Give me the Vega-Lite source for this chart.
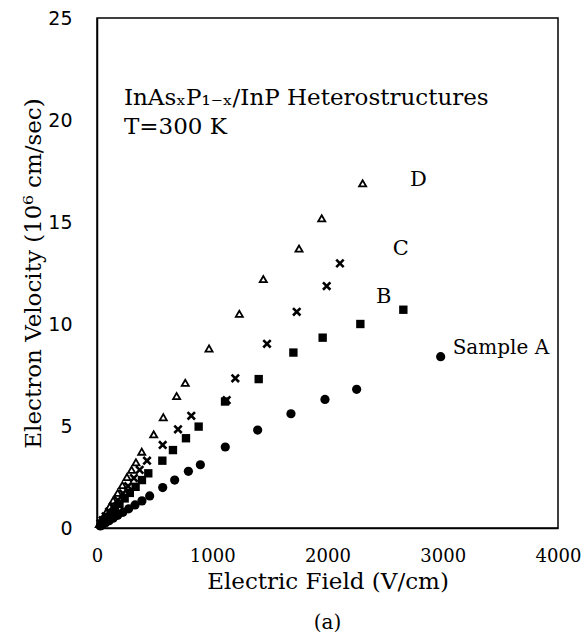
{
  "$schema": "https://vega.github.io/schema/vega-lite/v6.json",
  "width": 461,
  "height": 510,
  "autosize": "none",
  "padding": {"left": 97, "top": 18, "right": 29, "bottom": 113},
  "background": "white",
  "config": {
    "view": {"stroke": "black", "strokeWidth": 1.5},
    "font": "DejaVu Serif"
  },
  "title": {"text": "(a)", "orient": "bottom", "offset": 20, "fontSize": 20, "fontWeight": "normal", "font": "DejaVu Serif", "color": "black"},
  "datasets": {
    "pts": [
      {"s": "A", "E": 2982, "v": 8.4}, {"s": "A", "E": 2253, "v": 6.8}, {"s": "A", "E": 1978, "v": 6.3}, {"s": "A", "E": 1683, "v": 5.6},
      {"s": "A", "E": 1394, "v": 4.8}, {"s": "A", "E": 1113, "v": 3.97}, {"s": "A", "E": 897, "v": 3.1}, {"s": "A", "E": 793, "v": 2.78},
      {"s": "A", "E": 674, "v": 2.35}, {"s": "A", "E": 570, "v": 1.98}, {"s": "A", "E": 457, "v": 1.57}, {"s": "A", "E": 390, "v": 1.33},
      {"s": "A", "E": 330, "v": 1.13}, {"s": "A", "E": 275, "v": 0.94}, {"s": "A", "E": 225, "v": 0.77}, {"s": "A", "E": 180, "v": 0.62},
      {"s": "A", "E": 140, "v": 0.48}, {"s": "A", "E": 105, "v": 0.36}, {"s": "A", "E": 75, "v": 0.26}, {"s": "A", "E": 50, "v": 0.17}, {"s": "A", "E": 30, "v": 0.1},
      {"s": "B", "E": 2658, "v": 10.7}, {"s": "B", "E": 2285, "v": 10.0}, {"s": "B", "E": 1958, "v": 9.33}, {"s": "B", "E": 1704, "v": 8.6},
      {"s": "B", "E": 1403, "v": 7.3}, {"s": "B", "E": 1111, "v": 6.2}, {"s": "B", "E": 882, "v": 4.97}, {"s": "B", "E": 772, "v": 4.4},
      {"s": "B", "E": 659, "v": 3.82}, {"s": "B", "E": 567, "v": 3.3}, {"s": "B", "E": 445, "v": 2.68}, {"s": "B", "E": 390, "v": 2.35},
      {"s": "B", "E": 335, "v": 2.02}, {"s": "B", "E": 285, "v": 1.72}, {"s": "B", "E": 240, "v": 1.45}, {"s": "B", "E": 195, "v": 1.18},
      {"s": "B", "E": 155, "v": 0.94}, {"s": "B", "E": 120, "v": 0.72}, {"s": "B", "E": 90, "v": 0.54}, {"s": "B", "E": 60, "v": 0.36}, {"s": "B", "E": 35, "v": 0.21},
      {"s": "C", "E": 2108, "v": 12.97}, {"s": "C", "E": 1993, "v": 11.86}, {"s": "C", "E": 1733, "v": 10.6}, {"s": "C", "E": 1475, "v": 9.03},
      {"s": "C", "E": 1200, "v": 7.34}, {"s": "C", "E": 1125, "v": 6.27}, {"s": "C", "E": 818, "v": 5.5}, {"s": "C", "E": 703, "v": 4.84},
      {"s": "C", "E": 570, "v": 4.07}, {"s": "C", "E": 434, "v": 3.3}, {"s": "C", "E": 370, "v": 2.85}, {"s": "C", "E": 320, "v": 2.45},
      {"s": "C", "E": 270, "v": 2.05}, {"s": "C", "E": 225, "v": 1.7}, {"s": "C", "E": 180, "v": 1.37}, {"s": "C", "E": 140, "v": 1.06},
      {"s": "C", "E": 105, "v": 0.8}, {"s": "C", "E": 75, "v": 0.57}, {"s": "C", "E": 50, "v": 0.38}, {"s": "C", "E": 30, "v": 0.23},
      {"s": "D", "E": 2305, "v": 16.9}, {"s": "D", "E": 1950, "v": 15.18}, {"s": "D", "E": 1753, "v": 13.7}, {"s": "D", "E": 1443, "v": 12.2},
      {"s": "D", "E": 1235, "v": 10.5}, {"s": "D", "E": 972, "v": 8.8}, {"s": "D", "E": 766, "v": 7.12}, {"s": "D", "E": 691, "v": 6.47},
      {"s": "D", "E": 575, "v": 5.43}, {"s": "D", "E": 492, "v": 4.59}, {"s": "D", "E": 388, "v": 3.74}, {"s": "D", "E": 338, "v": 3.22},
      {"s": "D", "E": 300, "v": 2.85}, {"s": "D", "E": 260, "v": 2.5}, {"s": "D", "E": 220, "v": 2.1}, {"s": "D", "E": 180, "v": 1.72},
      {"s": "D", "E": 140, "v": 1.35}, {"s": "D", "E": 110, "v": 1.05}, {"s": "D", "E": 80, "v": 0.77}, {"s": "D", "E": 55, "v": 0.53},
      {"s": "D", "E": 35, "v": 0.34}, {"s": "D", "E": 20, "v": 0.19}
    ],
    "labels": [
      {"E": 2716, "v": 17.05, "t": "D", "fs": 21},
      {"E": 2566, "v": 13.7, "t": "C", "fs": 21},
      {"E": 2421, "v": 11.3, "t": "B", "fs": 21},
      {"E": 3086, "v": 8.84, "t": "Sample A", "fs": 20},
      {"E": 234, "v": 21.08, "t": "InAsₓP₁₋ₓ/InP Heterostructures", "fs": 23},
      {"E": 234, "v": 19.66, "t": "T=300 K", "fs": 23}
    ],
    "xticks": [{"E": 1000}, {"E": 2000}, {"E": 3000}],
    "yticks": [{"v": 5}, {"v": 10}, {"v": 15}, {"v": 20}]
  },
  "encoding": {
    "x": {
      "field": "E", "type": "quantitative",
      "scale": {"domain": [0, 4000], "nice": false},
      "axis": {
        "title": "Electric Field (V/cm)", "values": [0, 1000, 2000, 3000, 4000], "format": "d",
        "grid": false, "ticks": false, "tickSize": 0,
        "domainColor": "black", "domainWidth": 1.5,
        "labelFont": "DejaVu Serif", "labelFontSize": 18, "labelColor": "black", "labelPadding": 19,
        "labelFlush": false,
        "titleFont": "DejaVu Serif", "titleFontSize": 23, "titleFontWeight": "normal", "titleColor": "black", "titlePadding": 5
      }
    },
    "y": {
      "field": "v", "type": "quantitative",
      "scale": {"domain": [0, 25], "nice": false},
      "axis": {
        "title": "Electron Velocity (10⁶ cm/sec)", "values": [0, 5, 10, 15, 20, 25],
        "grid": false, "ticks": false, "tickSize": 0,
        "domainColor": "black", "domainWidth": 1.5,
        "labelFont": "DejaVu Sans", "labelFontSize": 19, "labelColor": "black", "labelPadding": 25,
        "labelFlush": false,
        "titleFont": "DejaVu Serif", "titleFontSize": 23, "titleFontWeight": "normal", "titleColor": "black", "titlePadding": 2
      }
    }
  },
  "layer": [
    {
      "data": {"name": "xticks"},
      "mark": {"type": "rule", "color": "black", "strokeWidth": 1.5},
      "encoding": {"y": {"datum": 0}, "y2": {"datum": 0.6}}
    },
    {
      "data": {"name": "yticks"},
      "mark": {"type": "rule", "color": "black", "strokeWidth": 1.5},
      "encoding": {"x": {"datum": 0}, "x2": {"datum": 105}}
    },
    {
      "data": {"name": "pts"},
      "transform": [{"filter": "datum.s === 'A'"}],
      "mark": {"type": "point", "shape": "circle", "filled": true, "color": "black", "size": 85, "opacity": 1}
    },
    {
      "data": {"name": "pts"},
      "transform": [{"filter": "datum.s === 'B'"}],
      "mark": {"type": "point", "shape": "square", "filled": true, "color": "black", "size": 70, "opacity": 1}
    },
    {
      "data": {"name": "pts"},
      "transform": [{"filter": "datum.s === 'C'"}],
      "mark": {"type": "point", "shape": "M-1,-1L1,1M1,-1L-1,1", "filled": false, "color": "black", "strokeWidth": 2.6, "size": 55, "opacity": 1}
    },
    {
      "data": {"name": "pts"},
      "transform": [{"filter": "datum.s === 'D'"}],
      "mark": {"type": "point", "shape": "triangle-up", "filled": false, "color": "black", "strokeWidth": 1.8, "size": 50, "opacity": 1}
    },
    {
      "data": {"name": "labels"},
      "mark": {"type": "text", "align": "left", "baseline": "middle", "font": "DejaVu Serif", "color": "black"},
      "encoding": {
        "text": {"field": "t"},
        "size": {"field": "fs", "type": "quantitative", "scale": null}
      }
    }
  ]
}
